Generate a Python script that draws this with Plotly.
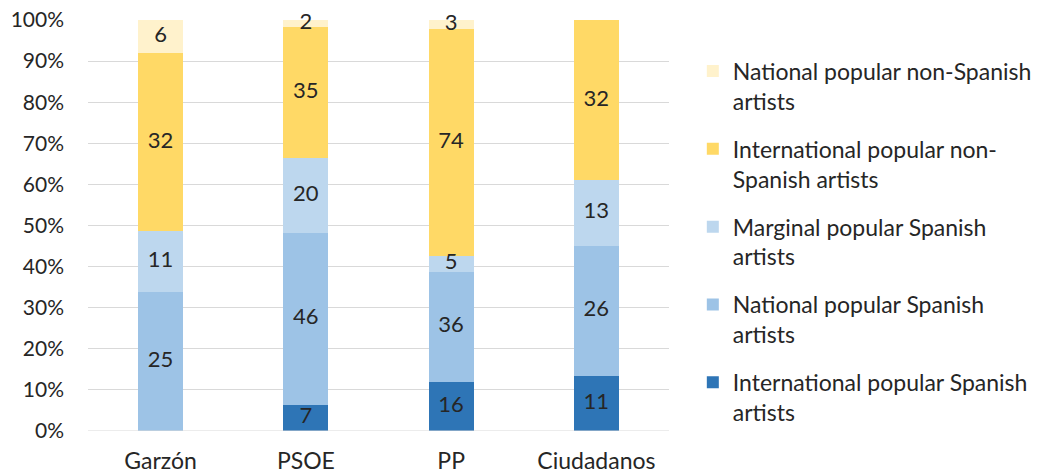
import numpy as np
import plotly.graph_objects as go

parties = ["Garzón", "PSOE", "PP", "Ciudadanos"]
series_names = [
    "International popular Spanish<br>artists",
    "National popular Spanish<br>artists",
    "Marginal popular Spanish<br>artists",
    "International popular non-<br>Spanish artists",
    "National popular non-Spanish<br>artists",
]
intl_spanish = [0, 7, 16, 11]
natl_spanish = [25, 46, 36, 26]
marg_spanish = [11, 20, 5, 13]
intl_non_spanish = [32, 35, 74, 32]
natl_non_spanish = [6, 2, 3, 0]
colors = ["#2E75B6", "#9DC3E6", "#BDD7EE", "#FFD966", "#FFF2CC"]

series = [intl_spanish, natl_spanish, marg_spanish, intl_non_spanish, natl_non_spanish]
arr = np.array(series, dtype=float)
pct = arr / arr.sum(axis=0) * 100
cum = np.cumsum(pct, axis=0)
mid = cum - pct / 2

FONT = "Lato"
TXT = "#262626"
fig = go.Figure()
n = len(series)
for i, (name, vals) in enumerate(zip(series_names, series)):
    fig.add_trace(go.Bar(
        x=parties, y=pct[i], name=name, marker=dict(color=colors[i], line=dict(width=0)),
        width=0.31, legendgroup=f"g{i}", legendrank=100 * (n - i), hoverinfo="skip",
    ))
for i, vals in enumerate(series):
    fig.add_trace(go.Scatter(
        x=parties, y=mid[i], mode="text",
        text=[str(v) if v > 0 else "" for v in vals],
        textfont=dict(family=FONT, size=22, color=TXT),
        showlegend=False, hoverinfo="skip", cliponaxis=False,
    ))

fig.update_layout(
    barmode="stack", bargap=0.69,
    width=1043, height=474,
    margin=dict(l=88, r=374, t=20, b=43, autoexpand=False),
    paper_bgcolor="white", plot_bgcolor="white",
    font=dict(family=FONT, size=21, color=TXT),
    legend=dict(
        traceorder="grouped", tracegroupgap=15,
        x=1.041, xanchor="left", y=0.928, yanchor="top",
        valign="top", font=dict(size=23, family=FONT, color=TXT),
        borderwidth=0,
    ),
    showlegend=True,
)
fig.update_yaxes(range=[0, 100], dtick=10, ticksuffix="%", showgrid=True,
                 gridcolor="#D9D9D9", gridwidth=1, zeroline=False, showline=False,
                 tickfont=dict(size=21), ticks="", ticklabelstandoff=23,
                 ticklabeloverflow="allow", fixedrange=True)
fig.update_xaxes(showline=False, showgrid=False, ticks="", tickfont=dict(size=23),
                 ticklabelstandoff=14, ticklabeloverflow="allow")
fig.add_shape(type="line", xref="paper", yref="y", x0=0, x1=1, y0=0, y1=0,
              line=dict(color="#D9D9D9", width=1))

fig.write_html("out.html", config={"displayModeBar": False},
               post_script="document.body.style.margin='0px';")
